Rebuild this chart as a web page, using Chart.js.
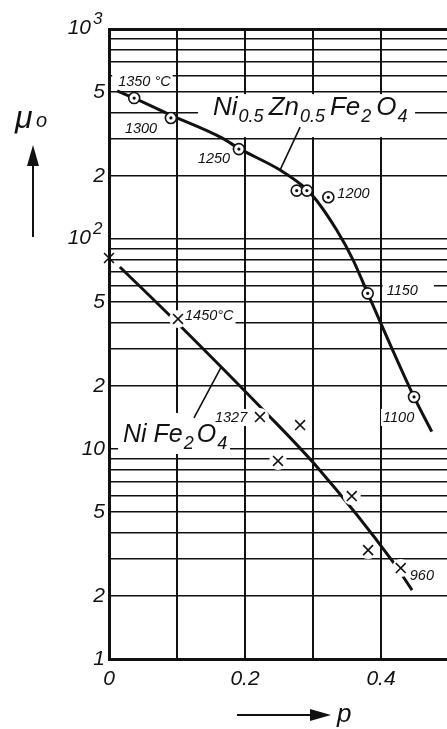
<!DOCTYPE html>
<html>
<head>
<meta charset="utf-8">
<script src="https://cdn.jsdelivr.net/npm/chart.js@4.4.0/dist/chart.umd.min.js"></script>
<style>
  html, body { margin: 0; padding: 0; background: #fff; overflow: hidden; }
  canvas { display: block; }
</style>
</head>
<body>
<canvas id="c" width="456" height="729"></canvas>
<script>
// Initial permeability μo of two sintered ferrites against porosity p (log scale)

// Axis ticks and their labels (the last x tick sits on the right edge, unlabelled)
const xMax = 0.497;
const xTicks = [0, 0.1, 0.2, 0.3, 0.4, xMax];
const xTickLabels = ['0', '', '0.2', '', '0.4', ''];
const yTicks = [1, 2, 3, 4, 5, 6, 7, 8, 9,
                10, 20, 30, 40, 50, 60, 70, 80, 90,
                100, 200, 300, 400, 500, 600, 700, 800, 900, 1000];
const yTickValues = [1, 2, 5, 10, 20, 50, 200, 500];
const yTickTexts  = ['1', '2', '5', '10', '2', '5', '2', '5'];
const yPowerValues = [100, 1000];
const yPowerBase = ['10', '10'];
const yPowerExp  = ['2', '3'];

// Ni0.5Zn0.5Fe2O4: measured samples with sintering temperature
const niZnP    = [0.037, 0.091, 0.191, 0.276, 0.291, 0.3225, 0.3804, 0.4485];
const niZnMu   = [469, 377, 268, 170, 170, 158, 55.1, 17.7];
const niZnTemp = ['1350 °C', '1300', '1250', '', '', '1200', '1150', '1100'];
// Ni0.5Zn0.5Fe2O4: drawn trend curve
const niZnCurveP  = [0.012, 0.037, 0.091, 0.166, 0.191, 0.2515, 0.291, 0.305, 0.335, 0.359, 0.3804, 0.4485, 0.4746];
const niZnCurveMu = [507, 469, 389, 303, 270, 213, 172, 153, 110, 79.4, 55.1, 17.7, 12.1];

// NiFe2O4: measured samples with sintering temperature
const niFeP    = [0, 0.1015, 0.222, 0.2485, 0.281, 0.357, 0.381, 0.429];
const niFeMu   = [81.2, 41.6, 14.2, 8.77, 13.0, 5.97, 3.30, 2.71];
const niFeTemp = ['', '1450°C', '1327', '', '', '', '', '960'];
// NiFe2O4: drawn trend curve
const niFeCurveP  = [0.016, 0.1015, 0.2272, 0.3059, 0.4176, 0.4456];
const niFeCurveMu = [73.6, 39.5, 15.3, 8.21, 2.90, 2.13];

// Compound names as (text, subscript?) runs
const niZnName = [['Ni', 0], ['0.5', 1], ['Zn', 0], ['0.5', 1], ['Fe', 0], ['2', 1], ['O', 0], ['4', 1]];
const niFeName = [['Ni Fe', 0], ['2', 1], ['O', 0], ['4', 1]];

const ink = '#111';
const family = "'Liberation Sans', 'DejaVu Sans', sans-serif";
const italic = px => `italic ${px}px ${family}`;
const pts = (xs, ys) => xs.map((x, i) => ({ x: x, y: ys[i] }));

// Temperature label placement: [dx, dy, extra pad left, extra pad right]
const niZnLabelPos = [[-16, -12, 6, 2], [-46, 15, 2, 2], [-41, 14, 2, 2], null, null, [9, 1, 2, 2], [19, 2, 4, 16], [-31, 25, 2, 2]];
const niFeLabelPos = [null, [7, 1, 1, 2], [-45, 5, 3, 3], null, null, null, null, [9, 12, 2, 2]];

function drawRuns(ctx, runs, x, y, main, sub, gap) {
  let cx = x;
  runs.forEach(([t, s]) => {
    ctx.font = italic(s ? sub : main);
    ctx.fillText(t, cx, s ? y + 7 : y);
    cx += ctx.measureText(t).width + (s ? gap : 1);
  });
  return cx;
}

const annotations = {
  id: 'annotations',
  beforeDatasetsDraw(chart) {
    // white backing behind labels interrupts the grid
    const { ctx, scales: { x, y } } = chart;
    ctx.save();
    ctx.fillStyle = '#fff';
    ctx.font = italic(14.5);
    const boxes = (ps, ms, ts, pos) => ps.forEach((p, i) => {
      if (!pos[i]) return;
      const px = x.getPixelForValue(p) + pos[i][0];
      const py = y.getPixelForValue(ms[i]) + pos[i][1];
      const w = ctx.measureText(ts[i]).width;
      ctx.fillRect(px - pos[i][2], py - 13, w + pos[i][2] + pos[i][3], 17);
    });
    boxes(niZnP, niZnMu, niZnTemp, niZnLabelPos);
    boxes(niFeP, niFeMu, niFeTemp, niFeLabelPos);
    // compound name boxes
    const a = { x: x.getPixelForValue(0.153), y: y.getPixelForValue(389) };
    ctx.fillRect(a.x - 15, a.y - 21, 217, 43);
    const b = { x: x.getPixelForValue(0.0206), y: y.getPixelForValue(10.8) };
    ctx.fillRect(b.x - 5, b.y - 29, 112, 41);
    ctx.restore();
  },
  afterDatasetsDraw(chart) {
    const { ctx, scales: { x, y } } = chart;
    ctx.save();
    ctx.fillStyle = ink;
    ctx.strokeStyle = ink;
    ctx.textBaseline = 'alphabetic';
    ctx.textAlign = 'left';
    ctx.font = italic(14.5);
    const texts = (ps, ms, ts, pos) => ps.forEach((p, i) => {
      if (!pos[i]) return;
      ctx.fillText(ts[i], x.getPixelForValue(p) + pos[i][0], y.getPixelForValue(ms[i]) + pos[i][1]);
    });
    texts(niZnP, niZnMu, niZnTemp, niZnLabelPos);
    texts(niFeP, niFeMu, niFeTemp, niFeLabelPos);

    // compound names
    drawRuns(ctx, niZnName, x.getPixelForValue(0.153), y.getPixelForValue(389), 26, 18, 5);
    drawRuns(ctx, niFeName, x.getPixelForValue(0.0206), y.getPixelForValue(10.8), 25, 18, 3);

    // leader lines from names to curves
    ctx.lineWidth = 1.6;
    ctx.beginPath();
    ctx.moveTo(x.getPixelForValue(0.281), y.getPixelForValue(341));
    ctx.lineTo(x.getPixelForValue(0.2515), y.getPixelForValue(213));
    ctx.moveTo(x.getPixelForValue(0.125), y.getPixelForValue(14.06));
    ctx.lineTo(x.getPixelForValue(0.1647), y.getPixelForValue(24.5));
    ctx.stroke();
    ctx.restore();
  },
  afterDraw(chart) {
    const { ctx, scales: { y } } = chart;
    ctx.save();
    ctx.fillStyle = ink;
    ctx.strokeStyle = ink;
    // powers of ten on the y axis
    yPowerValues.forEach((v, i) => {
      const py = y.getPixelForValue(v);
      ctx.textBaseline = 'middle';
      ctx.textAlign = 'right';
      ctx.font = italic(21);
      ctx.fillText(yPowerBase[i], 91, py - 1);
      ctx.textAlign = 'left';
      ctx.font = italic(17);
      ctx.fillText(yPowerExp[i], 93, py - 10);
    });
    // y axis title with arrow
    ctx.textBaseline = 'alphabetic';
    ctx.textAlign = 'left';
    ctx.font = italic(32);
    ctx.fillText('μ', 15, 128);
    ctx.font = italic(20);
    ctx.fillText('o', 36, 127);
    ctx.lineWidth = 2;
    ctx.beginPath();
    ctx.moveTo(33, 237); ctx.lineTo(33, 160);
    ctx.stroke();
    ctx.beginPath();
    ctx.moveTo(33, 145); ctx.lineTo(27, 166); ctx.lineTo(39, 166); ctx.closePath();
    ctx.fill();
    // x axis title with arrow
    ctx.beginPath();
    ctx.moveTo(237, 715); ctx.lineTo(316, 715);
    ctx.stroke();
    ctx.beginPath();
    ctx.moveTo(331, 715); ctx.lineTo(310, 709); ctx.lineTo(310, 721); ctx.closePath();
    ctx.fill();
    ctx.font = italic(26);
    ctx.fillText('p', 337, 722);
    ctx.restore();
  }
};

new Chart(document.getElementById('c'), {
  type: 'scatter',
  data: {
    datasets: [
      { type: 'line', data: pts(niZnCurveP, niZnCurveMu), borderColor: ink, borderWidth: 3,
        pointRadius: 0, cubicInterpolationMode: 'monotone', fill: false, order: 6 },
      { type: 'line', data: pts(niFeCurveP, niFeCurveMu), borderColor: ink, borderWidth: 3,
        pointRadius: 0, cubicInterpolationMode: 'monotone', fill: false, order: 6 },
      // white clearance around the crosses
      { data: pts(niFeP.slice(1), niFeMu.slice(1)), pointRadius: 9, pointBackgroundColor: '#fff',
        pointBorderWidth: 0, pointBorderColor: '#fff', order: 5 },
      { data: pts(niFeP, niFeMu), pointStyle: 'crossRot', pointRadius: 7, pointBorderColor: ink,
        pointBorderWidth: 1.6, order: 1, clip: false },
      { data: pts(niZnP, niZnMu), pointStyle: 'circle', pointRadius: 5.5, pointBackgroundColor: '#fff',
        pointBorderColor: ink, pointBorderWidth: 1.6, order: 3 },
      { data: pts(niZnP, niZnMu), pointStyle: 'circle', pointRadius: 1.6, pointBackgroundColor: ink,
        pointBorderWidth: 0, order: 2 }
    ]
  },
  options: {
    responsive: false,
    animation: false,
    events: [],
    layout: { padding: { top: 29, left: 0, right: 0, bottom: 0 } },
    plugins: { legend: { display: false }, tooltip: { enabled: false } },
    scales: {
      x: {
        type: 'linear', min: 0, max: xMax, bounds: 'data',
        afterBuildTicks: s => { s.ticks = xTicks.map(v => ({ value: v })); },
        afterFit: s => { s.height = 70; },
        ticks: {
          autoSkip: false, maxRotation: 0, padding: 0, color: ink,
          font: { family: family, size: 21, style: 'italic', lineHeight: 1.9 },
          callback: v => xTickLabels[xTicks.indexOf(v)] || ''
        },
        grid: {
          drawTicks: false, lineWidth: 2,
          color: c => (c.tick && c.tick.value === xMax) ? 'rgba(0,0,0,0)' : ink
        },
        border: { display: true, color: ink, width: 3 }
      },
      y: {
        type: 'logarithmic', min: 1, max: 1000,
        afterBuildTicks: s => { s.ticks = yTicks.map(v => ({ value: v })); },
        afterFit: s => { s.width = 109; },
        ticks: {
          autoSkip: false, padding: 4, color: ink,
          font: { family: family, size: 21, style: 'italic' },
          callback: v => { const k = yTickValues.indexOf(v); return k < 0 ? '' : yTickTexts[k]; }
        },
        grid: {
          color: ink, drawTicks: false,
          lineWidth: c => (c.tick && c.tick.value === 1000) ? 3 : 1.6
        },
        border: { display: true, color: ink, width: 3 }
      }
    }
  },
  plugins: [annotations]
});
</script>
</body>
</html>
